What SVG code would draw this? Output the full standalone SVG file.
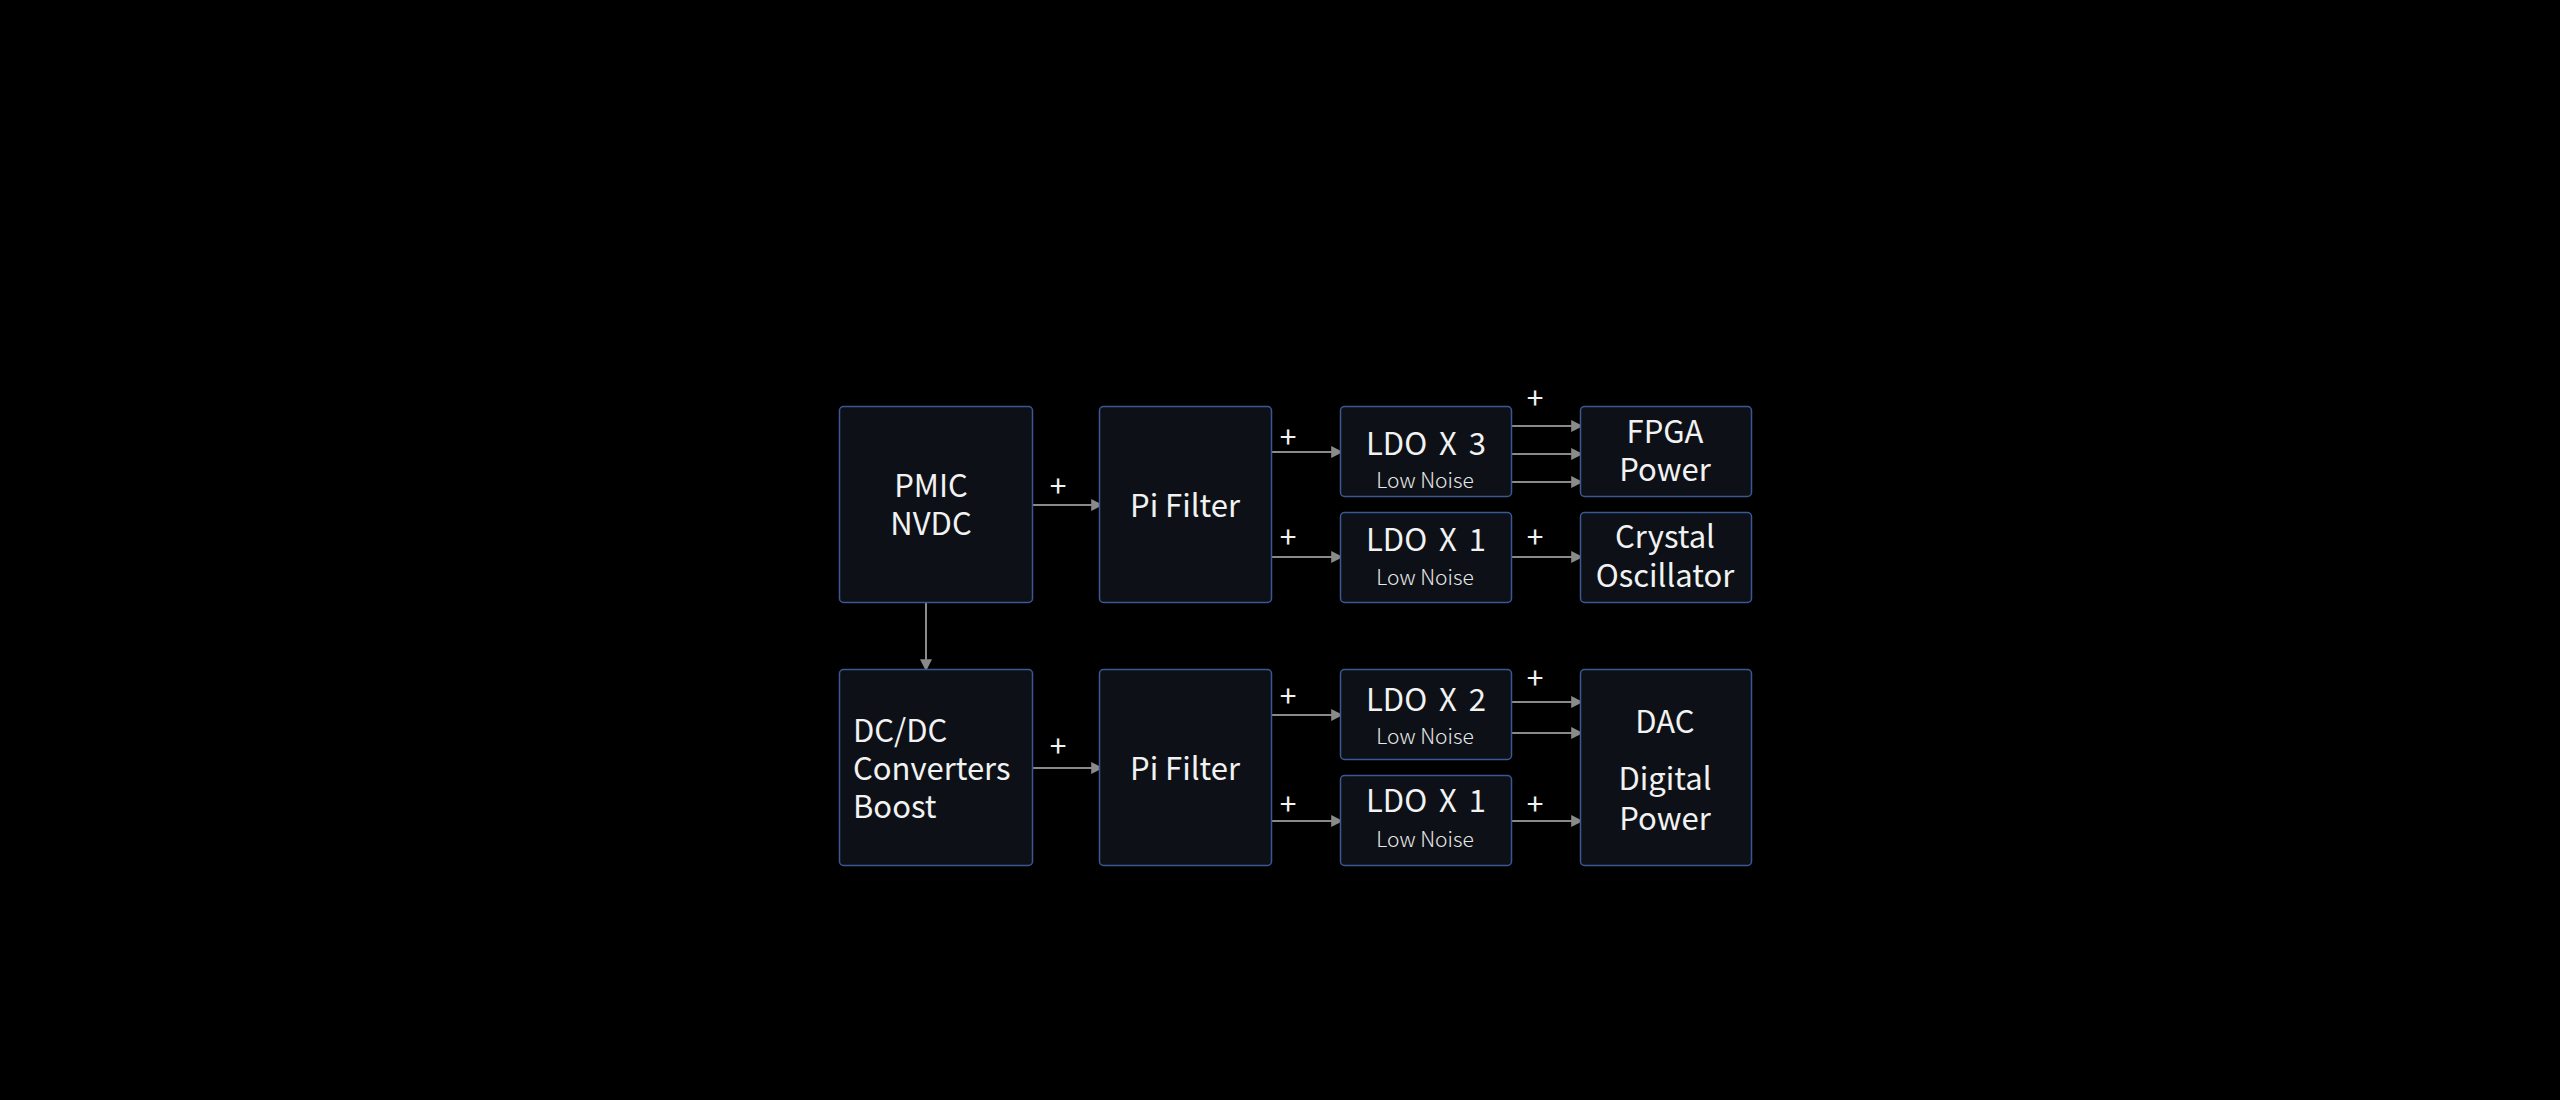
<svg xmlns="http://www.w3.org/2000/svg" width="2560" height="1100" viewBox="0 0 2560 1100">
<style>
.box{fill:#0d1117;stroke:#3a5894;stroke-width:1.5}
.t{font-family:"Noto Sans CJK SC","Noto Sans",sans-serif;font-size:31px;fill:#f2f2f2}
.l{word-spacing:5px}
.s{font-family:"Noto Sans CJK SC","Noto Sans",sans-serif;font-size:21px;font-weight:300;fill:#e8e8e8}
.p{font-family:"Noto Sans CJK SC","Noto Sans",sans-serif;font-size:30px;fill:#f2f2f2;text-anchor:middle}
.c{text-anchor:middle}
.ln{stroke:#8a8a8a;stroke-width:2;fill:none;marker-end:url(#ah)}
</style>
<defs>
<marker id="ah" viewBox="0 0 10 10" refX="9" refY="5" markerWidth="6" markerHeight="6" markerUnits="strokeWidth" orient="auto">
<path d="M0,0 L10,5 L0,10 z" fill="#8a8a8a"/>
</marker>
</defs>
<rect width="2560" height="1100" fill="#000"/>
<g id="connectors">
<path class="ln" d="M1032,505 H1102"/>
<path class="ln" d="M926,602 V670"/>
<path class="ln" d="M1032,768 H1102"/>
<path class="ln" d="M1271,452 H1342"/>
<path class="ln" d="M1271,557 H1342"/>
<path class="ln" d="M1271,715 H1342"/>
<path class="ln" d="M1271,821 H1342"/>
<path class="ln" d="M1511,426 H1582"/>
<path class="ln" d="M1511,454 H1582"/>
<path class="ln" d="M1511,482 H1582"/>
<path class="ln" d="M1511,557 H1582"/>
<path class="ln" d="M1511,702 H1582"/>
<path class="ln" d="M1511,733 H1582"/>
<path class="ln" d="M1511,821 H1582"/>
<text class="p" x="1058" y="497">+</text>
<text class="p" x="1058" y="757">+</text>
<text class="p" x="1288" y="448">+</text>
<text class="p" x="1288" y="548">+</text>
<text class="p" x="1288" y="707">+</text>
<text class="p" x="1288" y="815">+</text>
<text class="p" x="1535" y="409">+</text>
<text class="p" x="1535" y="548">+</text>
<text class="p" x="1535" y="689">+</text>
<text class="p" x="1535" y="815">+</text>
</g>
<g id="pmic">
<rect class="box" x="839.5" y="406.5" width="193" height="196" rx="4"/>
<text class="t c" x="931" y="497">PMIC</text>
<text class="t c" x="931" y="535">NVDC</text>
</g>
<g id="pi1">
<rect class="box" x="1099.5" y="406.5" width="172" height="196" rx="4"/>
<text class="t c" x="1185" y="517">Pi Filter</text>
</g>
<g id="dcdc">
<rect class="box" x="839.5" y="669.5" width="193" height="196" rx="4"/>
<text class="t" x="853" y="742">DC/DC</text>
<text class="t" x="853" y="780">Converters</text>
<text class="t" x="853" y="818">Boost</text>
</g>
<g id="pi2">
<rect class="box" x="1099.5" y="669.5" width="172" height="196" rx="4"/>
<text class="t c" x="1185" y="780">Pi Filter</text>
</g>
<g id="ldo3">
<rect class="box" x="1340.5" y="406.5" width="171" height="90" rx="4"/>
<text class="t c l" x="1426" y="455">LDO X 3</text>
<text class="s c" x="1425" y="488">Low Noise</text>
</g>
<g id="ldo1a">
<rect class="box" x="1340.5" y="512.5" width="171" height="90" rx="4"/>
<text class="t c l" x="1426" y="551">LDO X 1</text>
<text class="s c" x="1425" y="585">Low Noise</text>
</g>
<g id="ldo2">
<rect class="box" x="1340.5" y="669.5" width="171" height="90" rx="4"/>
<text class="t c l" x="1426" y="711">LDO X 2</text>
<text class="s c" x="1425" y="744">Low Noise</text>
</g>
<g id="ldo1b">
<rect class="box" x="1340.5" y="775.5" width="171" height="90" rx="4"/>
<text class="t c l" x="1426" y="812">LDO X 1</text>
<text class="s c" x="1425" y="847">Low Noise</text>
</g>
<g id="fpga">
<rect class="box" x="1580.5" y="406.5" width="171" height="90" rx="4"/>
<text class="t c" x="1665" y="443">FPGA</text>
<text class="t c" x="1665" y="481">Power</text>
</g>
<g id="crystal">
<rect class="box" x="1580.5" y="512.5" width="171" height="90" rx="4"/>
<text class="t c" x="1665" y="548">Crystal</text>
<text class="t c" x="1665" y="587">Oscillator</text>
</g>
<g id="dac">
<rect class="box" x="1580.5" y="669.5" width="171" height="196" rx="4"/>
<text class="t c" x="1665" y="733">DAC</text>
<text class="t c" x="1665" y="790">Digital</text>
<text class="t c" x="1665" y="830">Power</text>
</g>
</svg>
